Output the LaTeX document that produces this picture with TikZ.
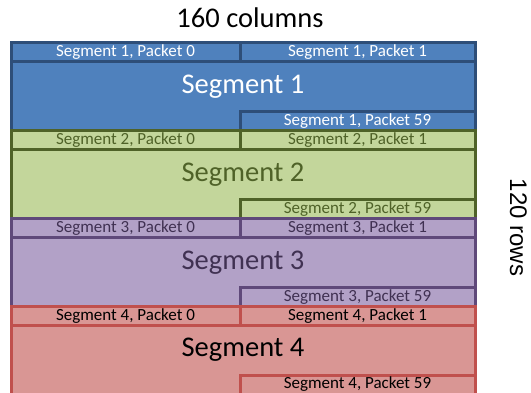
\documentclass[tikz,border=0pt]{standalone}
\usepackage{fontspec}
\setmainfont{Carlito}
\newfontfamily\rowsfont{Liberation Sans}

\definecolor{blueFill}{RGB}{79,129,189}
\definecolor{blueLine}{RGB}{46,78,120}
\definecolor{greenFill}{RGB}{195,214,155}
\definecolor{greenLine}{RGB}{79,98,40}
\definecolor{purpleFill}{RGB}{178,161,199}
\definecolor{purpleLine}{RGB}{95,73,122}
\definecolor{purpleText}{RGB}{64,49,82}
\definecolor{redFill}{RGB}{217,150,148}
\definecolor{redLine}{RGB}{192,80,77}

\begin{document}
\begin{tikzpicture}[
		x=1pt,y=-1pt,
		segment/.style = {draw, line width=3pt, minimum width=464pt, minimum height=87.75pt,
			inner sep=0pt, font=\fontsize{28.5}{30}\selectfont},
		packet/.style = {draw, line width=3pt, minimum height=19pt, inner sep=0pt,
			font=\fontsize{17}{18}\selectfont},
		half/.style = {packet, minimum width=229pt},
		right/.style = {packet, minimum width=235pt},
		seg1/.style = {fill=blueFill, draw=blueLine, text=white},
		seg2/.style = {fill=greenFill, draw=greenLine, text=greenLine},
		seg3/.style = {fill=purpleFill, draw=purpleLine, text=purpleText},
		seg4/.style = {fill=redFill, draw=redLine, text=black}
	]
	\useasboundingbox (0,0) rectangle (531,393);

	\node (cols) [anchor=base, font=\fontsize{28.5}{30}\selectfont] at (250,28) {160 columns};
	\node (rows) [anchor=base, rotate=-90, font=\rowsfont\fontsize{24}{26}\selectfont] at (510,227.5) {120 rows};

	\node (seg1) [segment, seg1] at (243,86.875) {Segment 1};
	\node (s1p0) [half, seg1] at (125.5,52.5) {Segment 1, Packet 0};
	\node (s1p1) [right, seg1] at (357.5,52.5) {Segment 1, Packet 1};
	\node (s1p59) [right, seg1] at (357.5,121.25) {Segment 1, Packet 59};

	\node (seg2) [segment, seg2] at (243,174.625) {Segment 2};
	\node (s2p0) [half, seg2] at (125.5,140.25) {Segment 2, Packet 0};
	\node (s2p1) [right, seg2] at (357.5,140.25) {Segment 2, Packet 1};
	\node (s2p59) [right, seg2] at (357.5,209) {Segment 2, Packet 59};

	\node (seg3) [segment, seg3] at (243,262.375) {Segment 3};
	\node (s3p0) [half, seg3] at (125.5,228) {Segment 3, Packet 0};
	\node (s3p1) [right, seg3] at (357.5,228) {Segment 3, Packet 1};
	\node (s3p59) [right, seg3] at (357.5,296.75) {Segment 3, Packet 59};

	\node (seg4) [segment, seg4] at (243,350.125) {Segment 4};
	\node (s4p0) [half, seg4] at (125.5,315.75) {Segment 4, Packet 0};
	\node (s4p1) [right, seg4] at (357.5,315.75) {Segment 4, Packet 1};
	\node (s4p59) [right, seg4] at (357.5,384.5) {Segment 4, Packet 59};
\end{tikzpicture}
\end{document}
